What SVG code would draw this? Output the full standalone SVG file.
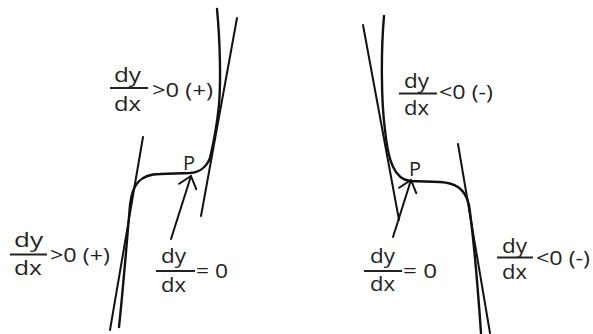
<svg xmlns="http://www.w3.org/2000/svg" width="593" height="334" viewBox="0 0 593 334">
<style>
.c{fill:none;stroke:#111;stroke-width:2.4;stroke-linecap:round;stroke-linejoin:round}
.t{fill:none;stroke:#111;stroke-width:2;stroke-linecap:round}
.fl{stroke:#222;stroke-width:1.8}
text{font-family:"Open Sans","Liberation Sans",sans-serif;font-size:20px;fill:#222}
</style>
<defs>
<marker id="ah" markerUnits="userSpaceOnUse" markerWidth="30" markerHeight="30" viewBox="-15 -15 30 30" refX="0" refY="0" orient="auto">
<path d="M-11,-9 L0,0 L-11,9" fill="none" stroke="#111" stroke-width="2" stroke-linecap="round" stroke-linejoin="round"/>
</marker>
</defs>
<rect width="593" height="334" fill="#fff"/>
<g id="connectors">
<path class="c" d="M119,327 C123,290 127,240 130,205 C132,185 140,174 160,174 L190,173 C200,172 206,168 210,158 C213,145 217,125 219,105 C221,80 220,40 217,9"/>
<line class="t" x1="110" y1="330" x2="143" y2="137"/>
<line class="t" x1="201" y1="216" x2="237" y2="18"/>
<line class="t" x1="171" y1="239" x2="191" y2="176" marker-end="url(#ah)"/>
<path class="c" d="M384,16 C381,50 381,100 385,130 C388,160 394,179 410,181 L440,182 C455,183 465,188 469,205 C474,240 478,290 481,333"/>
<line class="t" x1="363" y1="25" x2="399" y2="220"/>
<line class="t" x1="458" y1="144" x2="490" y2="333"/>
<line class="t" x1="393" y1="237" x2="411" y2="180" marker-end="url(#ah)"/>
</g>
<g id="labelA">
<text x="14" y="247" textLength="29" lengthAdjust="spacingAndGlyphs">dy</text>
<line class="fl" x1="10" y1="254.5" x2="47" y2="254.5"/>
<text x="14" y="275" textLength="28" lengthAdjust="spacingAndGlyphs">dx</text>
<text x="50" y="262" textLength="60" lengthAdjust="spacingAndGlyphs">&gt;0 (+)</text>
</g>
<g id="labelB">
<text x="114" y="82" textLength="27" lengthAdjust="spacingAndGlyphs">dy</text>
<line class="fl" x1="110" y1="88" x2="148" y2="88"/>
<text x="114" y="111" textLength="27" lengthAdjust="spacingAndGlyphs">dx</text>
<text x="152" y="97" textLength="61" lengthAdjust="spacingAndGlyphs">&gt;0 (+)</text>
</g>
<g id="labelC">
<text x="161" y="263" textLength="25" lengthAdjust="spacingAndGlyphs">dy</text>
<line class="fl" x1="156" y1="271" x2="195" y2="271"/>
<text x="161" y="292" textLength="25" lengthAdjust="spacingAndGlyphs">dx</text>
<text x="196" y="278" textLength="32" lengthAdjust="spacingAndGlyphs">= 0</text>
</g>
<g id="labelD">
<text x="404" y="88" textLength="25" lengthAdjust="spacingAndGlyphs">dy</text>
<line class="fl" x1="399" y1="93.5" x2="437" y2="93.5"/>
<text x="404" y="115" textLength="25" lengthAdjust="spacingAndGlyphs">dx</text>
<text x="439" y="99" textLength="54" lengthAdjust="spacingAndGlyphs">&lt;0 (-)</text>
</g>
<g id="labelE">
<text x="370" y="263" textLength="25" lengthAdjust="spacingAndGlyphs">dy</text>
<line class="fl" x1="364" y1="271" x2="402" y2="271"/>
<text x="370" y="291" textLength="25" lengthAdjust="spacingAndGlyphs">dx</text>
<text x="403" y="278" textLength="34" lengthAdjust="spacingAndGlyphs">= 0</text>
</g>
<g id="labelF">
<text x="502" y="253" textLength="25" lengthAdjust="spacingAndGlyphs">dy</text>
<line class="fl" x1="497" y1="257.5" x2="533" y2="257.5"/>
<text x="502" y="279" textLength="25" lengthAdjust="spacingAndGlyphs">dx</text>
<text x="536" y="265" textLength="54" lengthAdjust="spacingAndGlyphs">&lt;0 (-)</text>
</g>
<g id="P1"><text x="183" y="170" style="font-size:20px" textLength="12" lengthAdjust="spacingAndGlyphs">P</text></g>
<g id="P2"><text x="409" y="176" style="font-size:20px" textLength="12" lengthAdjust="spacingAndGlyphs">P</text></g>
</svg>
